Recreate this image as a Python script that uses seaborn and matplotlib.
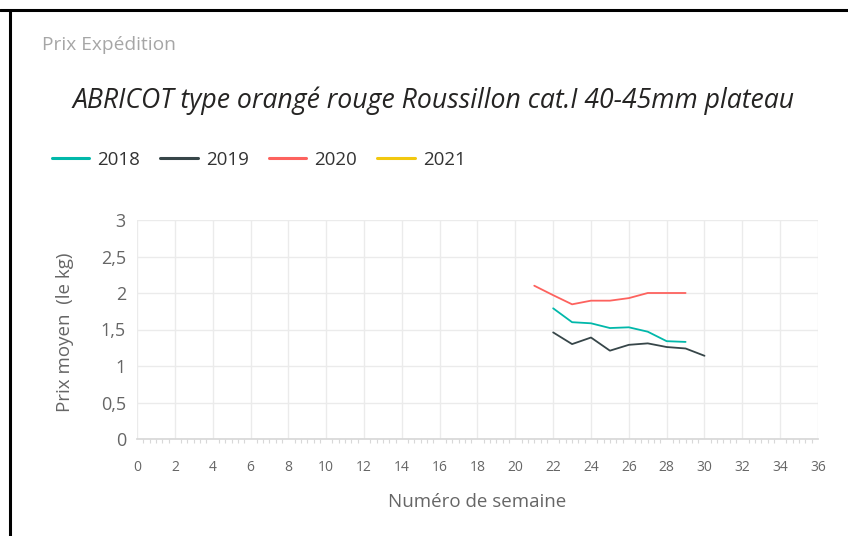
import matplotlib
matplotlib.use("Agg")
import matplotlib.pyplot as plt
import seaborn as sns
import pandas as pd
from matplotlib.lines import Line2D
from matplotlib.ticker import FuncFormatter, MultipleLocator

years = ["2018", "2019", "2020", "2021"]
colors = ["#01B8AA", "#374649", "#FD625E", "#F2C80F"]

weeks_2018 = [22, 23, 24, 25, 26, 27, 28, 29]
prix_2018 = [1.79, 1.60, 1.585, 1.52, 1.53, 1.47, 1.34, 1.33]
weeks_2019 = [22, 23, 24, 25, 26, 27, 28, 29, 30]
prix_2019 = [1.46, 1.30, 1.39, 1.21, 1.29, 1.31, 1.26, 1.24, 1.14]
weeks_2020 = [21, 22, 23, 24, 25, 26, 27, 28, 29]
prix_2020 = [2.10, 1.97, 1.845, 1.895, 1.895, 1.93, 2.00, 2.00, 2.00]
weeks_2021 = []
prix_2021 = []

frames = []
for y, w, p in [("2018", weeks_2018, prix_2018), ("2019", weeks_2019, prix_2019),
                ("2020", weeks_2020, prix_2020), ("2021", weeks_2021, prix_2021)]:
    frames.append(pd.DataFrame({"semaine": w, "prix": p, "annee": [y] * len(w)}))
df = pd.concat(frames, ignore_index=True)

sns.set_theme(style="white")
plt.rcParams["font.family"] = ["Open Sans", "DejaVu Sans"]

fig = plt.figure(figsize=(8.48, 5.36), dpi=100)
ax = fig.add_axes([137 / 848, 1 - 439 / 536, (818 - 137) / 848, (439 - 220) / 536])

pal = dict(zip(years, colors))
present = [y for y in years if (df["annee"] == y).any()]
sns.lineplot(data=df, x="semaine", y="prix", hue="annee", hue_order=present,
             palette=pal, ax=ax, linewidth=1.3, legend=False)

ax.set_xlim(0, 36)
ax.set_ylim(0, 3)
ax.xaxis.set_major_locator(MultipleLocator(2))
ax.xaxis.set_minor_locator(MultipleLocator(1 / 3))
ax.yaxis.set_major_locator(MultipleLocator(0.5))
ax.yaxis.set_major_formatter(FuncFormatter(lambda v, p: ("%g" % v).replace(".", ",")))
ax.grid(True, which="major", color="#EBEBEB", linewidth=1)
for s in ["top", "right", "left"]:
    ax.spines[s].set_visible(False)
ax.spines["bottom"].set_color("#D8D8D8")
ax.tick_params(axis="x", which="major", length=0, labelsize=10, labelcolor="#666666", pad=15)
ax.tick_params(axis="x", which="minor", bottom=True, length=3, color="#D8D8D8", width=0.8)
ax.tick_params(axis="y", length=0, labelsize=13, labelcolor="#666666", pad=8)
ax.set_xlabel("Numéro de semaine", fontsize=13.5, color="#666666")
ax.set_ylabel("Prix moyen  (le kg)", fontsize=13.5, color="#666666")
ax.xaxis.label.set_va("center")
ax.yaxis.label.set_va("center")
ax.xaxis.set_label_coords(0.5, (439 - 502) / 219)
ax.yaxis.set_label_coords((65 - 137) / 681, (439 - 332) / 219)

fig.text(42 / 848, 1 - 45 / 536, "Prix Expédition", fontsize=13.8, color="#A6A6A6",
         ha="left", va="center")
fig.text(434 / 848, 1 - 101 / 536, "ABRICOT type orangé rouge Roussillon cat.I 40-45mm plateau",
         fontsize=19.2, style="italic", color="#252423", ha="center", va="center")

handles = [Line2D([], [], color=c, linewidth=2.2) for c in colors]
fig.legend(handles, years, loc="center left", bbox_to_anchor=(35 / 848, 1 - 160 / 536),
           ncol=4, frameon=False, fontsize=13.5, handlelength=2.0, handletextpad=0.43,
           columnspacing=1.07, labelcolor="#333333")

fig.add_artist(Line2D([0, 1], [1 - 10 / 536, 1 - 10 / 536], transform=fig.transFigure,
                      color="black", linewidth=2.2))
fig.add_artist(Line2D([10 / 848, 10 / 848], [0, 1 - 10 / 536], transform=fig.transFigure,
                      color="black", linewidth=2.2))

fig.savefig("out.png", dpi=100)
